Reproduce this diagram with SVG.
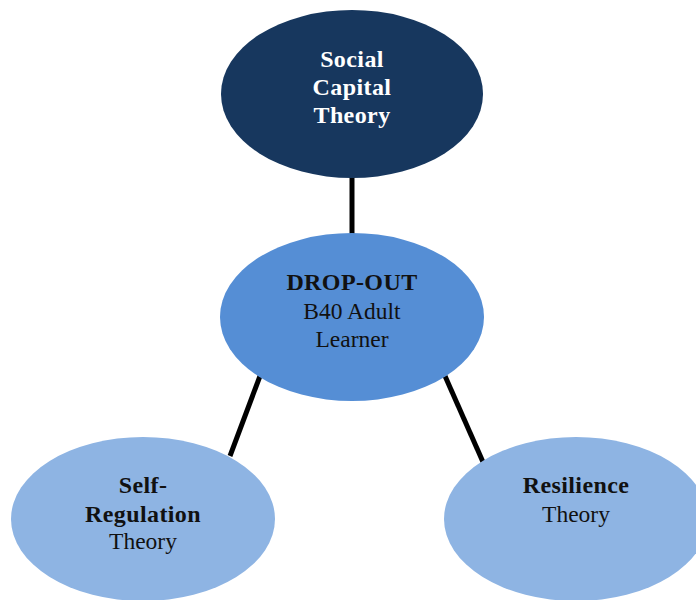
<svg xmlns="http://www.w3.org/2000/svg" width="696" height="600" viewBox="0 0 696 600">
  <style>
    .lbl { font-family: "Liberation Serif", "Times New Roman", serif; font-size: 23.5px; text-anchor: middle; fill: #111; }
    .b { font-weight: bold; font-size: 24px; letter-spacing: 0.4px; }
    .w { fill: #ffffff; }
    .link { stroke: #000; stroke-width: 5; fill: none; }
  </style>
  <rect width="696" height="600" fill="#ffffff"/>
  <g id="connectors">
    <line class="link" x1="352" y1="176" x2="352" y2="236"/>
    <line class="link" x1="260" y1="376" x2="230" y2="456"/>
    <line class="link" x1="445" y1="376" x2="483" y2="462"/>
  </g>
  <g id="social-capital">
    <ellipse cx="352" cy="94" rx="131" ry="84" fill="#17375E"/>
    <text class="lbl b w" x="352" y="67">Social</text>
    <text class="lbl b w" x="352" y="95">Capital</text>
    <text class="lbl b w" x="352" y="123">Theory</text>
  </g>
  <g id="drop-out">
    <ellipse cx="352" cy="317" rx="132" ry="84" fill="#558ED5"/>
    <text class="lbl b" x="352" y="290">DROP-OUT</text>
    <text class="lbl" x="352" y="319">B40 Adult</text>
    <text class="lbl" x="352" y="347">Learner</text>
  </g>
  <g id="self-regulation">
    <ellipse cx="143" cy="519" rx="132" ry="82" fill="#8EB4E3"/>
    <text class="lbl b" x="143" y="493">Self-</text>
    <text class="lbl b" x="143" y="522">Regulation</text>
    <text class="lbl" x="143" y="549">Theory</text>
  </g>
  <g id="resilience">
    <ellipse cx="576" cy="519" rx="132" ry="82" fill="#8EB4E3"/>
    <text class="lbl b" x="576" y="493">Resilience</text>
    <text class="lbl" x="576" y="522">Theory</text>
  </g>
</svg>
